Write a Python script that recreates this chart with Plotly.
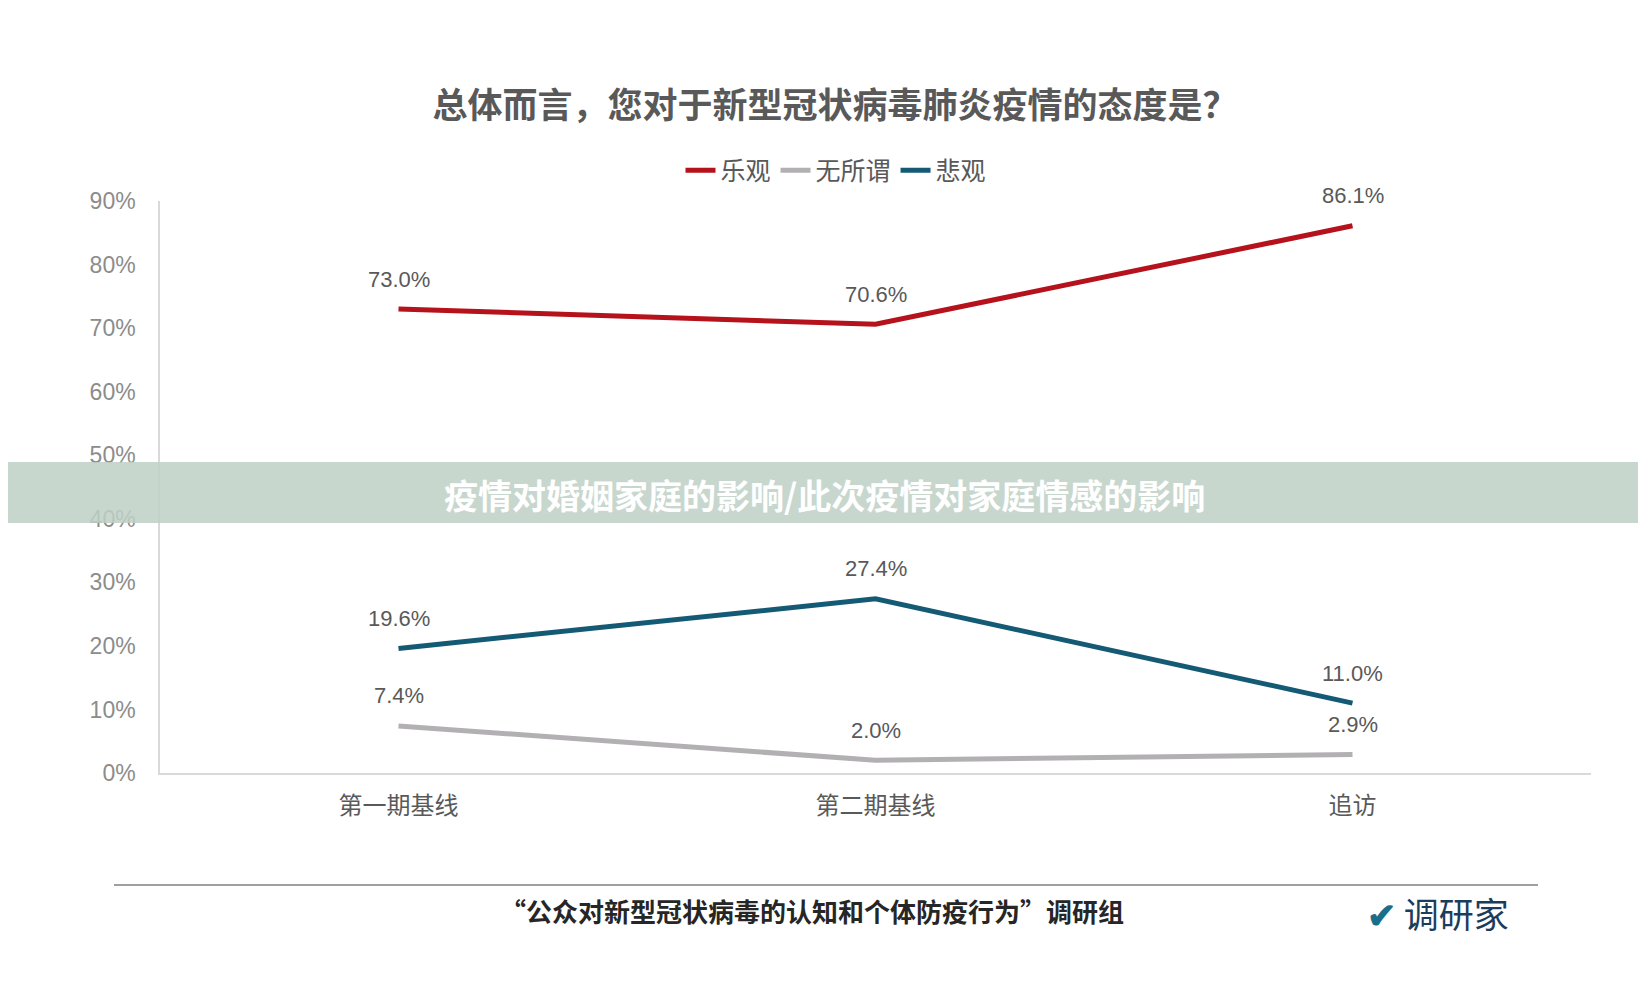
import plotly.graph_objects as go

categories = ["第一期基线", "第二期基线", "追访"]
optimistic = [73.0, 70.6, 86.1]
indifferent = [7.4, 2.0, 2.9]
pessimistic = [19.6, 27.4, 11.0]
tick_vals = [0, 10, 20, 30, 40, 50, 60, 70, 80, 90]
tick_text = [f"{v}%" for v in tick_vals]

W, H = 1646, 986
L, R, T, B = 152, 63, 193, 221
PW, PH = W - L - R, H - T - B
def px(x): return (x - L) / PW
def py(y): return (H - B - y) / PH

font = "Noto Sans CJK SC"
fig = go.Figure()
series = [("乐观", optimistic, "#b5121b"), ("无所谓", indifferent, "#b3b0b3"), ("悲观", pessimistic, "#155a75")]
ann = []
for name, vals, col in series:
    fig.add_trace(go.Scatter(x=categories, y=vals, name=name, mode="lines",
                             line=dict(color=col, width=5)))
    for c, v in zip(categories, vals):
        ann.append(dict(x=c, y=v, text=f"{v:.1f}%", showarrow=False, yshift=30, yanchor="middle",
                        font=dict(size=22, color="#595959", family="Liberation Sans")))

ann += [
    dict(text="<b>疫情对婚姻家庭的影响/此次疫情对家庭情感的影响</b>", xref="paper", yref="paper",
         x=px(816), y=py(486), showarrow=False, font=dict(size=34, color="white", family=font)),
    dict(text="<b>“公众对新型冠状病毒的认知和个体防疫行为”调研组</b>", xref="paper", yref="paper",
         x=px(804), y=py(923), showarrow=False, font=dict(size=26, color="#262626", family=font)),
    dict(text="<span style='color:#1a6e8c'><b>✔</b></span> 调研家", xref="paper", yref="paper",
         x=px(1503), y=py(932), showarrow=False, font=dict(size=35, color="#1b3d5c", family=font)),
]

fig.update_layout(
    width=W, height=H, paper_bgcolor="white", plot_bgcolor="white",
    margin=dict(l=L, r=R, t=T, b=B, autoexpand=False),
    font=dict(family=font, color="#595959"),
    title=dict(text="<b>总体而言，您对于新型冠状病毒肺炎疫情的态度是？</b>", x=px(827), xref="paper", xanchor="center",
               y=1 - 97.6 / H, yanchor="middle", font=dict(size=35, color="#595959", family=font)),
    legend=dict(orientation="h", x=px(828), xanchor="center", y=1 - 162.6 / H, yref="container", yanchor="middle",
                font=dict(size=25, color="#595959"), traceorder="normal"),
    xaxis=dict(range=[-0.5, 2.5], showgrid=False, showline=True, linecolor="#d9d9d9", linewidth=1.5,
               ticks="", tickfont=dict(size=24, color="#595959"), ticklabelstandoff=10),
    yaxis=dict(range=[0, 90], tickvals=tick_vals, ticktext=tick_text, showgrid=False, showline=True,
               linecolor="#d9d9d9", linewidth=1.5, zeroline=False, ticks="",
               tickfont=dict(size=23, color="#8c8c8c", family="Liberation Sans"),
               ticklabelstandoff=18),
    shapes=[
        dict(type="rect", xref="paper", yref="paper", x0=px(-10), x1=px(1660),
             y0=py(515), y1=py(454),
             fillcolor="rgba(190,208,198,0.85)", line=dict(width=0), layer="above"),
        dict(type="line", xref="paper", yref="paper", x0=px(106), x1=px(1530),
             y0=py(877), y1=py(877), line=dict(color="#7f7f7f", width=1.5)),
    ],
    annotations=ann,
)
fig.write_html("out.html")
